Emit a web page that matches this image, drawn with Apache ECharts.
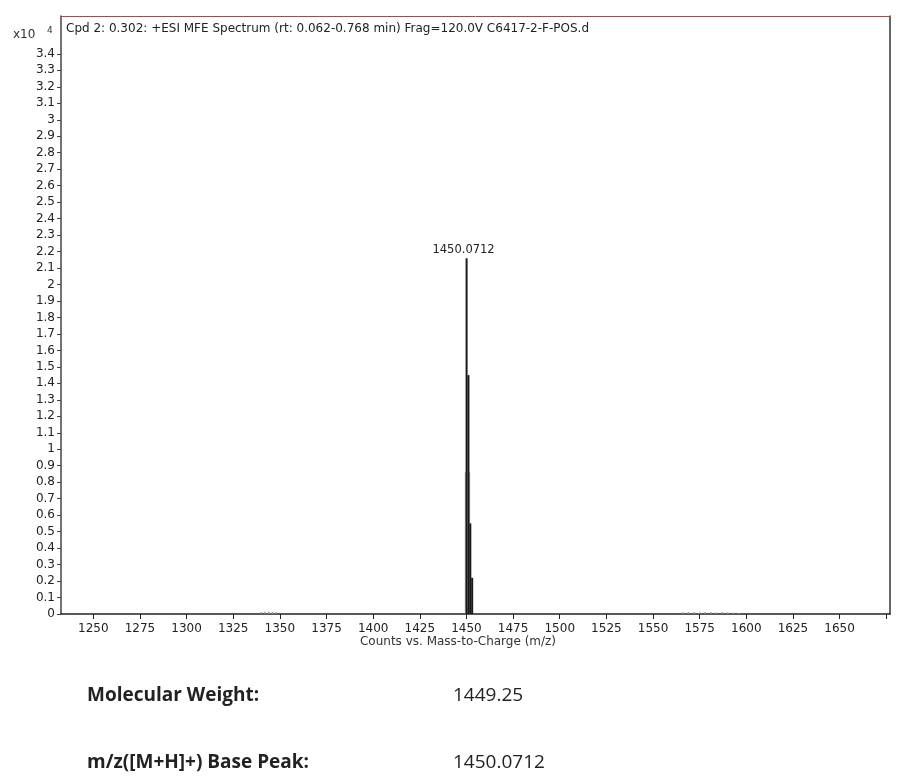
<!DOCTYPE html>
<html>
<head>
<meta charset="utf-8">
<script src="https://cdn.jsdelivr.net/npm/echarts@6.0.0/dist/echarts.min.js"></script>
<style>
  html, body { margin: 0; padding: 0; background: #fff; }
  #chart { width: 898px; height: 776px; }
</style>
</head>
<body>
<div id="chart"></div>
<script>
// ---- data (intensity in units of x10^4 counts) ----
const peakMz = [1450.0712, 1451.07, 1452.07, 1453.07];
const peakIntensity = [2.16, 1.45, 0.55, 0.22];
const peakLabels = ['1450.0712', '', '', ''];

const shoulderMz = [1449.4, 1451.7];
const shoulderIntensity = [0.86, 0.86];

const noiseMz = [1340, 1342, 1344, 1346, 1348, 1566, 1569, 1572, 1575, 1578, 1581, 1584, 1587, 1590, 1593, 1596];
const noiseIntensity = [0.012, 0.014, 0.015, 0.014, 0.012, 0.01, 0.012, 0.012, 0.01, 0.012, 0.012, 0.01, 0.012, 0.01, 0.008, 0.006];

const xTicks = [1250, 1275, 1300, 1325, 1350, 1375, 1400, 1425, 1450, 1475, 1500, 1525, 1550, 1575, 1600, 1625, 1650, 1675];
const xLabels = [1250, 1275, 1300, 1325, 1350, 1375, 1400, 1425, 1450, 1475, 1500, 1525, 1550, 1575, 1600, 1625, 1650];
const yTicks = [0, 0.1, 0.2, 0.3, 0.4, 0.5, 0.6, 0.7, 0.8, 0.9, 1, 1.1, 1.2, 1.3, 1.4, 1.5, 1.6, 1.7, 1.8, 1.9, 2, 2.1, 2.2, 2.3, 2.4, 2.5, 2.6, 2.7, 2.8, 2.9, 3, 3.1, 3.2, 3.3, 3.4];

const plotTitle = 'Cpd 2: 0.302: +ESI MFE Spectrum (rt: 0.062-0.768 min) Frag=120.0V C6417-2-F-POS.d';
const xAxisTitle = 'Counts vs. Mass-to-Charge (m/z)';
const infoLabels = ['Molecular Weight:', 'm/z([M+H]+) Base Peak:'];
const infoValues = ['1449.25', '1450.0712'];

const chartFont = 'DejaVu Sans';
const chart = echarts.init(document.getElementById('chart'), null, { renderer: 'canvas' });

function stickSeries(name, xs, ys, color, width, labels) {
  return {
    name: name,
    type: 'custom',
    silent: true,
    data: xs.map((x, i) => [x, ys[i]]),
    encode: { x: 0, y: 1 },
    renderItem: function (params, api) {
      const x = api.value(0), y = api.value(1);
      const top = api.coord([x, y]);
      const base = api.coord([x, 0]);
      const children = [{
        type: 'line',
        shape: { x1: base[0], y1: base[1], x2: top[0], y2: top[1] },
        style: { stroke: color, lineWidth: width }
      }];
      const lab = labels ? labels[params.dataIndex] : '';
      if (lab) {
        children.push({
          type: 'text',
          style: {
            text: lab, x: top[0] - 3, y: top[1] - 2,
            textAlign: 'center', textVerticalAlign: 'bottom',
            fill: '#222', font: '11.5px "' + chartFont + '"'
          }
        });
      }
      return { type: 'group', children: children };
    }
  };
}

const titleBase = { padding: 0 };
chart.setOption({
  animation: false,
  backgroundColor: '#fff',
  textStyle: { fontFamily: chartFont },
  title: [
    { ...titleBase, text: plotTitle, left: 66, top: 23, textStyle: { fontSize: 12, fontWeight: 'normal', color: '#222', fontFamily: chartFont } },
    { ...titleBase, text: 'x10', left: 13, top: 29, textStyle: { fontSize: 12, fontWeight: 'normal', color: '#333', fontFamily: chartFont } },
    { ...titleBase, text: '4', left: 47, top: 26, textStyle: { fontSize: 9, fontWeight: 'normal', color: '#333', fontFamily: chartFont } },
    { ...titleBase, text: xAxisTitle, left: 458, top: 636, textAlign: 'center', textStyle: { fontSize: 12, fontWeight: 'normal', color: '#333', fontFamily: chartFont } },
    { ...titleBase, text: infoLabels[0], left: 87, top: 686, textStyle: { fontSize: 19, fontWeight: 'bold', color: '#222', fontFamily: 'Open Sans' } },
    { ...titleBase, text: infoValues[0], left: 453, top: 686, textStyle: { fontSize: 19, fontWeight: 'normal', color: '#222', fontFamily: 'Open Sans' } },
    { ...titleBase, text: infoLabels[1], left: 87, top: 753, textStyle: { fontSize: 19, fontWeight: 'bold', color: '#222', fontFamily: 'Open Sans' } },
    { ...titleBase, text: infoValues[1], left: 453, top: 753, textStyle: { fontSize: 19, fontWeight: 'normal', color: '#222', fontFamily: 'Open Sans' } }
  ],
  grid: { left: 61, top: 16, right: 8, bottom: 162, containLabel: false, show: false },
  xAxis: [{
    type: 'value', min: 1232.7, max: 1677, position: 'bottom',
    axisLine: { show: true, onZero: false, lineStyle: { color: '#222', width: 1.5 } },
    axisTick: { show: true, length: 5, customValues: xTicks, lineStyle: { color: '#222' } },
    axisLabel: { show: true, customValues: xLabels, fontSize: 12, color: '#222', margin: 9, fontFamily: chartFont,
      formatter: v => String(v) },
    splitLine: { show: false }
  }, {
    type: 'value', min: 1232.7, max: 1677, position: 'top',
    axisLine: { show: true, onZero: false, lineStyle: { color: '#c04040', width: 1 } },
    axisTick: { show: false }, axisLabel: { show: false }, splitLine: { show: false }
  }],
  yAxis: [{
    type: 'value', min: 0, max: 3.63, position: 'left',
    axisLine: { show: true, onZero: false, lineStyle: { color: '#444', width: 1.5 } },
    axisTick: { show: true, length: 4, customValues: yTicks, lineStyle: { color: '#444' } },
    axisLabel: { show: true, customValues: yTicks, fontSize: 12, color: '#222', margin: 6, fontFamily: chartFont,
      formatter: v => String(+v.toFixed(1)) },
    splitLine: { show: false }
  }, {
    type: 'value', min: 0, max: 3.63, position: 'right',
    axisLine: { show: true, onZero: false, lineStyle: { color: '#333', width: 1.5 } },
    axisTick: { show: false }, axisLabel: { show: false }, splitLine: { show: false }
  }],
  series: [
    stickSeries('noise', noiseMz, noiseIntensity, '#8a9aa0', 1.5, null),
    stickSeries('shoulder', shoulderMz, shoulderIntensity, '#999', 1, null),
    stickSeries('peaks', peakMz, peakIntensity, '#1a1a1a', 2, peakLabels)
  ]
});
</script>
</body>
</html>
